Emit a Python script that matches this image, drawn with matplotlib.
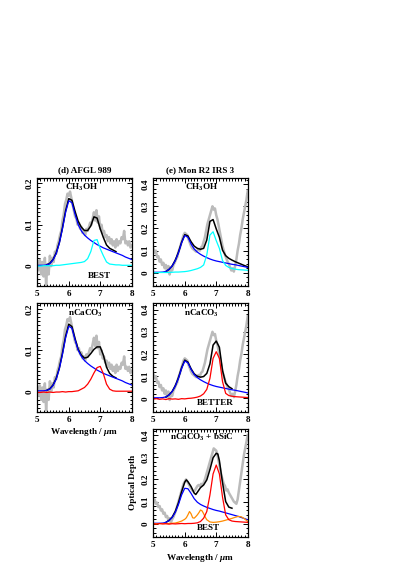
import numpy as np
import matplotlib
matplotlib.use("Agg")
import matplotlib.pyplot as plt
from matplotlib.ticker import MultipleLocator, FixedLocator, FixedFormatter

# ---------------- data ----------------
x_obs = [5.00, 5.04, 5.08, 5.12, 5.16, 5.20, 5.24, 5.28, 5.32, 5.36, 5.40, 5.44, 5.48, 5.52, 5.56,
         5.60, 5.64, 5.68, 5.72, 5.76, 5.80, 5.84, 5.88, 5.92, 5.96, 6.00, 6.04, 6.08, 6.12, 6.16,
         6.20, 6.24, 6.28, 6.32, 6.36, 6.40, 6.44, 6.48, 6.52, 6.56, 6.60, 6.64, 6.68, 6.72, 6.76,
         6.80, 6.84, 6.88, 6.92, 6.96, 7.00, 7.04, 7.08, 7.12, 7.16, 7.20, 7.24, 7.28, 7.32, 7.36,
         7.40, 7.44, 7.48, 7.52, 7.56, 7.60, 7.64, 7.68, 7.72, 7.76, 7.80, 7.84, 7.88, 7.92, 7.96, 8.00]

afgl_obs = [0.005, -0.010, 0.015, -0.020, 0.010, -0.025, 0.020, -0.045, 0.005, -0.020, 0.025, 0.000,
            0.020, 0.010, 0.035, 0.030, 0.050, 0.060, 0.075, 0.085, 0.110, 0.125, 0.150, 0.160, 0.175,
            0.170, 0.180, 0.165, 0.150, 0.135, 0.120, 0.115, 0.100, 0.105, 0.090, 0.095, 0.080, 0.085,
            0.075, 0.090, 0.085, 0.095, 0.105, 0.100, 0.115, 0.130, 0.110, 0.135, 0.105, 0.120, 0.090,
            0.100, 0.080, 0.085, 0.070, 0.075, 0.060, 0.070, 0.055, 0.065, 0.050, 0.060, 0.045, 0.065,
            0.050, 0.060, 0.055, 0.070, 0.065, 0.085, 0.055, 0.060, 0.050, 0.060, 0.045, 0.050]

monr2_obs = [0.110, 0.090, 0.100, 0.070, 0.075, 0.050, 0.060, 0.035, 0.045, 0.020, 0.035, 0.005,
             0.030, -0.008, 0.020, 0.010, 0.035, 0.045, 0.060, 0.070, 0.095, 0.110, 0.130, 0.150, 0.170,
             0.180, 0.175, 0.170, 0.150, 0.135, 0.120, 0.110, 0.105, 0.100, 0.095, 0.100, 0.105, 0.100,
             0.115, 0.120, 0.140, 0.160, 0.190, 0.220, 0.240, 0.260, 0.280, 0.300, 0.285, 0.290, 0.260,
             0.240, 0.210, 0.180, 0.150, 0.120, 0.100, 0.080, 0.065, 0.050, 0.040, 0.025, 0.010, 0.020,
             0.005, 0.030, 0.060, 0.100, 0.130, 0.170, 0.200, 0.240, 0.270, 0.300, 0.330, 0.370]

monr2_obs3 = [0.100, 0.110, 0.090, 0.095, 0.075, 0.080, 0.060, 0.065, 0.045, 0.050, 0.030, 0.035,
              0.015, 0.025, 0.005, 0.020, 0.030, 0.045, 0.060, 0.080, 0.100, 0.120, 0.140, 0.160, 0.180,
              0.190, 0.200, 0.190, 0.180, 0.170, 0.160, 0.150, 0.145, 0.150, 0.160, 0.170, 0.175, 0.170,
              0.180, 0.175, 0.185, 0.200, 0.220, 0.240, 0.260, 0.280, 0.300, 0.320, 0.340, 0.335, 0.330,
              0.310, 0.280, 0.250, 0.220, 0.200, 0.180, 0.170, 0.150, 0.155, 0.140, 0.130, 0.120, 0.110,
              0.100, 0.095, 0.090, 0.110, 0.150, 0.190, 0.230, 0.270, 0.310, 0.340, 0.370, 0.400]

x_mod = [5.0, 5.1, 5.2, 5.3, 5.4, 5.5, 5.6, 5.7, 5.8, 5.9, 6.0, 6.1, 6.2, 6.3, 6.4, 6.5,
         6.6, 6.7, 6.8, 6.9, 7.0, 7.1, 7.2, 7.3, 7.4, 7.5, 7.6, 7.7, 7.8, 7.9, 8.0]

afgl_h2o = [0.002, 0.002, 0.002, 0.003, 0.006, 0.015, 0.030, 0.055, 0.090, 0.130, 0.158, 0.153,
            0.125, 0.100, 0.085, 0.075, 0.068, 0.062, 0.057, 0.052, 0.048, 0.044, 0.041, 0.038,
            0.035, 0.032, 0.029, 0.026, 0.022, 0.019, 0.016]
afgl_ch3oh = [0.000, 0.000, 0.001, 0.001, 0.001, 0.001, 0.002, 0.002, 0.003, 0.004, 0.005, 0.006,
              0.007, 0.008, 0.009, 0.011, 0.018, 0.035, 0.062, 0.064, 0.042, 0.025, 0.010, 0.005,
              0.004, 0.003, 0.003, 0.002, 0.002, 0.002, 0.002]
afgl_fit1 = [np.nan, np.nan, np.nan, 0.003, 0.007, 0.016, 0.032, 0.057, 0.093, 0.134, 0.163, 0.159,
             0.132, 0.108, 0.094, 0.086, 0.086, 0.097, 0.119, 0.116, 0.090, 0.069, 0.051, 0.043,
             0.039, 0.035, np.nan, np.nan, np.nan, np.nan, np.nan]
afgl_caco3 = [-0.002, -0.002, -0.001, -0.002, -0.001, -0.002, -0.001, -0.001, 0.000, -0.001, 0.000,
              0.000, 0.001, 0.002, 0.006, 0.010, 0.018, 0.030, 0.045, 0.058, 0.061, 0.043, 0.018,
              0.006, 0.002, 0.001, 0.001, 0.001, 0.001, 0.001, 0.001]
afgl_fit2 = [np.nan, np.nan, np.nan, 0.003, 0.007, 0.016, 0.032, 0.057, 0.093, 0.134, 0.163, 0.157,
             0.128, 0.102, 0.088, 0.081, 0.083, 0.092, 0.102, 0.108, 0.108, 0.088, 0.059, 0.044,
             0.037, 0.033, np.nan, np.nan, np.nan, np.nan, np.nan]

monr2_h2o = [0.002, 0.002, 0.002, 0.003, 0.006, 0.015, 0.030, 0.055, 0.090, 0.135, 0.168, 0.160,
             0.130, 0.107, 0.093, 0.083, 0.075, 0.068, 0.062, 0.057, 0.053, 0.050, 0.047, 0.044,
             0.041, 0.038, 0.036, 0.033, 0.030, 0.027, 0.024]
monr2_ch3oh = [0.000, 0.000, 0.001, 0.001, 0.001, 0.001, 0.002, 0.003, 0.003, 0.004, 0.005, 0.007,
               0.010, 0.014, 0.018, 0.024, 0.035, 0.080, 0.170, 0.185, 0.145, 0.110, 0.055, 0.033,
               0.024, 0.019, 0.016, 0.014, 0.013, 0.012, 0.011]
monr2_fit1 = [np.nan, np.nan, np.nan, np.nan, 0.005, 0.015, 0.031, 0.057, 0.093, 0.138, 0.172, 0.166,
              0.140, 0.120, 0.110, 0.106, 0.110, 0.148, 0.232, 0.240, 0.198, 0.160, 0.102, 0.077,
              0.065, 0.057, 0.050, 0.044, 0.038, 0.032, 0.027]
monr2_caco3 = [-0.004, -0.002, -0.005, -0.003, -0.006, -0.002, -0.004, -0.003, -0.005, -0.002, -0.003,
               -0.001, 0.000, 0.002, 0.005, 0.010, 0.020, 0.040, 0.090, 0.180, 0.210, 0.180, 0.075,
               0.022, 0.012, 0.009, 0.007, 0.006, 0.005, 0.004, 0.003]
monr2_fit2 = [np.nan, np.nan, np.nan, np.nan, 0.005, 0.015, 0.031, 0.057, 0.093, 0.138, 0.172, 0.163,
              0.133, 0.110, 0.099, 0.095, 0.098, 0.112, 0.155, 0.240, 0.258, 0.230, 0.125, 0.068,
              0.052, 0.043, np.nan, np.nan, np.nan, np.nan, np.nan]

monr2_h2o3 = [0.002, 0.002, 0.002, 0.003, 0.006, 0.014, 0.028, 0.052, 0.087, 0.130, 0.160, 0.158,
              0.137, 0.113, 0.097, 0.087, 0.080, 0.074, 0.069, 0.064, 0.060, 0.057, 0.053, 0.049,
              0.045, 0.041, 0.037, 0.033, 0.028, 0.023, 0.018]
monr2_caco3_3 = [0.000, -0.002, 0.001, -0.001, 0.000, -0.002, 0.000, -0.001, 0.000, 0.001, 0.000,
                 0.001, 0.001, 0.002, 0.004, 0.010, 0.025, 0.055, 0.130, 0.225, 0.265, 0.225, 0.120,
                 0.040, 0.018, 0.012, 0.010, 0.009, 0.008, 0.007, 0.006]

x_sic = [5.0, 5.5, 5.7, 5.8, 5.9, 6.0, 6.05, 6.1, 6.15, 6.2, 6.25, 6.3, 6.35, 6.4, 6.45, 6.5, 6.55,
         6.6, 6.65, 6.7, 6.8, 6.9, 7.0, 7.1, 7.2, 7.3, 7.4, 7.5, 7.6, 7.7, 7.8, 7.9, 8.0]
monr2_sic = [0.000, 0.001, 0.003, 0.007, 0.012, 0.020, 0.027, 0.040, 0.055, 0.045, 0.027, 0.025,
             0.032, 0.040, 0.050, 0.062, 0.058, 0.045, 0.030, 0.018, 0.008, 0.006, 0.007, 0.009,
             0.012, 0.016, 0.020, 0.024, 0.029, 0.033, 0.031, 0.022, 0.010]

x_fit3 = [5.4, 5.5, 5.6, 5.7, 5.8, 5.9, 6.0, 6.05, 6.1, 6.2, 6.3, 6.35, 6.4, 6.5, 6.6, 6.7, 6.8,
          6.9, 7.0, 7.05, 7.1, 7.2, 7.3, 7.4, 7.5]
monr2_fit3 = [0.006, 0.015, 0.030, 0.056, 0.095, 0.145, 0.188, 0.198, 0.190, 0.168, 0.138, 0.132,
              0.142, 0.163, 0.175, 0.198, 0.245, 0.298, 0.318, 0.315, 0.285, 0.185, 0.100, 0.075, 0.070]

titles = ["(d) AFGL 989", "(e) Mon R2 IRS 3"]
left_yticks = [0.0, 0.1, 0.2]
left_ylabels = ["0", "0.1", "0.2"]
right_yticks = [0.0, 0.1, 0.2, 0.3, 0.4]
right_ylabels = ["0", "0.1", "0.2", "0.3", "0.4"]
xticks = [5, 6, 7, 8]
xlabels = ["5", "6", "7", "8"]

# ---------------- style ----------------
plt.rcParams['font.family'] = ['Liberation Serif', 'DejaVu Serif']
plt.rcParams['mathtext.fontset'] = 'custom'
plt.rcParams['mathtext.rm'] = 'Liberation Serif:bold'
plt.rcParams['mathtext.it'] = 'Liberation Serif:italic:bold'
plt.rcParams['mathtext.bf'] = 'Liberation Serif:bold'
FS = 6.6
GREY = '#bbbbbb'
W, H = 411, 581
fig = plt.figure(figsize=(W / 100, H / 100), dpi=100)

def axpos(x0, top, w=94.4, h=108.5):
    return [x0 / W, 1 - (top + h) / H, w / W, h / H]

def style(ax, ylim, yt, yl, ymin):
    ax.set_xlim(5, 8)
    ax.set_ylim(*ylim)
    ax.xaxis.set_major_locator(FixedLocator(xticks))
    ax.xaxis.set_major_formatter(FixedFormatter(xlabels))
    ax.xaxis.set_minor_locator(MultipleLocator(0.1))
    ax.yaxis.set_major_locator(FixedLocator(yt))
    ax.yaxis.set_major_formatter(FixedFormatter(yl))
    ax.yaxis.set_minor_locator(MultipleLocator(ymin))
    ax.tick_params(which='both', direction='in', top=True, right=True, width=0.7,
                   labelsize=FS, pad=3)
    ax.tick_params(which='major', length=3.5)
    ax.tick_params(which='minor', length=1.8)
    for lab in ax.get_xticklabels() + ax.get_yticklabels():
        lab.set_fontweight('bold')
    for lab in ax.get_yticklabels():
        lab.set_rotation(90)
        lab.set_va('center')
    for s in ax.spines.values():
        s.set_linewidth(0.9)

def label(ax, txt, x, y):
    ax.text(x, y, txt, transform=ax.transAxes, ha='center', va='center', fontsize=FS,
            fontweight='bold')

LW_OBS, LW_FIT, LW_C = 1.8, 1.1, 0.9

# Left column
axA = fig.add_axes(axpos(37.3, 177.5))
axA.plot(x_obs, afgl_obs, color=GREY, lw=LW_OBS)
axA.plot(x_mod, afgl_fit1, color='black', lw=LW_FIT)
axA.plot(x_mod, afgl_h2o, color='#0000ff', lw=LW_C)
axA.plot(x_mod, afgl_ch3oh, color='#00ffff', lw=LW_C)
style(axA, (-0.048, 0.214), left_yticks, left_ylabels, 0.01)
label(axA, "CH$_3$OH", 0.47, 0.905)
label(axA, "BEST", 0.66, 0.09)
axA.set_title(titles[0], fontsize=FS, fontweight='bold', pad=3.5)

axB = fig.add_axes(axpos(37.3, 303.0))
axB.plot(x_obs, afgl_obs, color=GREY, lw=LW_OBS)
axB.plot(x_mod, afgl_fit2, color='black', lw=LW_FIT)
axB.plot(x_mod, afgl_h2o, color='#0000ff', lw=LW_C)
axB.plot(x_mod, afgl_caco3, color='#ff0000', lw=LW_C)
style(axB, (-0.048, 0.214), left_yticks, left_ylabels, 0.01)
label(axB, "nCaCO$_3$", 0.51, 0.905)
axB.set_xlabel("Wavelength / $\\mu$m", fontsize=FS, fontweight='bold', labelpad=2)

# Right column
axC = fig.add_axes(axpos(153.3, 177.5))
axC.plot(x_obs, monr2_obs, color=GREY, lw=LW_OBS)
axC.plot(x_mod, monr2_fit1, color='black', lw=LW_FIT)
axC.plot(x_mod, monr2_h2o, color='#0000ff', lw=LW_C)
axC.plot(x_mod, monr2_ch3oh, color='#00ffff', lw=LW_C)
style(axC, (-0.06, 0.43), right_yticks, right_ylabels, 0.02)
label(axC, "CH$_3$OH", 0.51, 0.905)
axC.set_title(titles[1], fontsize=FS, fontweight='bold', pad=3.5)

axD = fig.add_axes(axpos(153.3, 303.0))
axD.plot(x_obs, monr2_obs, color=GREY, lw=LW_OBS)
axD.plot(x_mod, monr2_fit2, color='black', lw=LW_FIT)
axD.plot(x_mod, monr2_h2o, color='#0000ff', lw=LW_C)
axD.plot(x_mod, monr2_caco3, color='#ff0000', lw=LW_C)
style(axD, (-0.06, 0.43), right_yticks, right_ylabels, 0.02)
label(axD, "nCaCO$_3$", 0.51, 0.905)
label(axD, "BETTER", 0.655, 0.08)

axE = fig.add_axes(axpos(153.3, 428.5))
axE.plot(x_obs, monr2_obs3, color=GREY, lw=LW_OBS)
axE.plot(x_fit3, monr2_fit3, color='black', lw=LW_FIT)
axE.plot(x_mod, monr2_h2o3, color='#0000ff', lw=LW_C)
axE.plot(x_sic, monr2_sic, color='#ff8c00', lw=LW_C)
axE.plot(x_mod, monr2_caco3_3, color='#ff0000', lw=LW_C)
style(axE, (-0.06, 0.43), right_yticks, right_ylabels, 0.02)
label(axE, "nCaCO$_3$ + bSiC", 0.51, 0.915)
label(axE, "BEST", 0.585, 0.08)
axE.set_xlabel("Wavelength / $\\mu$m", fontsize=FS, fontweight='bold', labelpad=2)
axE.set_ylabel("Optical Depth", fontsize=FS, fontweight='bold', labelpad=3)

fig.savefig("out.png", dpi=100)
